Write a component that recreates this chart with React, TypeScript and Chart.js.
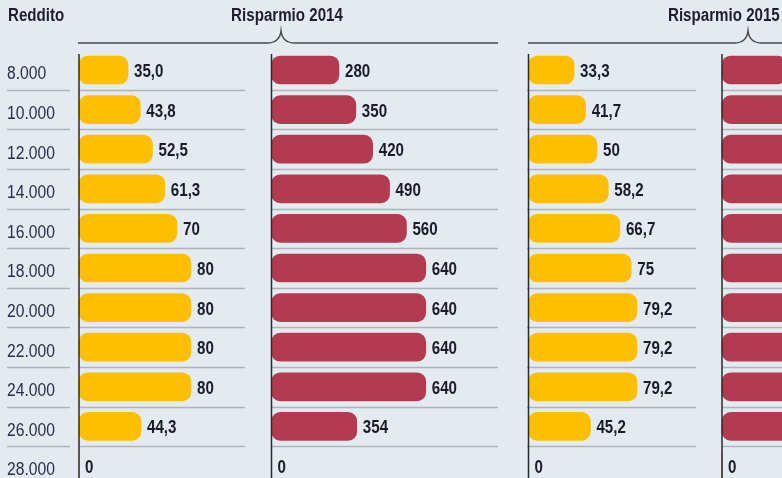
import React, { useEffect, useRef } from "react";
import { Chart, registerables } from "chart.js";

Chart.register(...registerables);

// ---- data ----
const incomes = ["8.000", "10.000", "12.000", "14.000", "16.000", "18.000", "20.000", "22.000", "24.000", "26.000", "28.000"];

const monthly2014 = [35.0, 43.8, 52.5, 61.3, 70, 80, 80, 80, 80, 44.3, 0];
const monthly2014Text = ["35,0", "43,8", "52,5", "61,3", "70", "80", "80", "80", "80", "44,3", "0"];

const yearly2014 = [280, 350, 420, 490, 560, 640, 640, 640, 640, 354, 0];
const yearly2014Text = ["280", "350", "420", "490", "560", "640", "640", "640", "640", "354", "0"];

const monthly2015 = [33.3, 41.7, 50, 58.2, 66.7, 75, 79.2, 79.2, 79.2, 45.2, 0];
const monthly2015Text = ["33,3", "41,7", "50", "58,2", "66,7", "75", "79,2", "79,2", "79,2", "45,2", "0"];

const yearly2015 = [266, 333, 400, 466, 533, 600, 633, 633, 633, 362, 0];
const yearly2015Text = ["266", "333", "400", "466", "533", "600", "633", "633", "633", "362", "0"];

const incomeTitle = "Reddito";
const groupTitles = ["Risparmio 2014", "Risparmio 2015"];

// ---- layout / style ----
const W = 782;
const H = 487;
const BG = "#e3ebf1";
const YELLOW = "#fdbf00";
const RED = "#b43a52";
const SANS = '"Liberation Sans", Arial, sans-serif';

// column: zero pixel, pixels per unit
const columns = [
  { id: "x1", zero: 79, ppu: 1.4 },
  { id: "x2", zero: 271.5, ppu: 0.241 },
  { id: "x3", zero: 528.5, ppu: 1.37 },
  { id: "x4", zero: 722, ppu: 0.241 },
];
const sepSegments = [
  [7, 70],
  [79, 245],
  [271, 498],
  [527, 696],
  [722, 782],
];
const braces = [
  { x0: 78, x1: 498, tip: 281 },
  { x0: 528, x1: 782, tip: 748 },
];

function axisRange(zero: number, ppu: number) {
  const min = -zero / ppu;
  return { min, max: min + W / ppu };
}

function narrowText(
  ctx: CanvasRenderingContext2D,
  text: string,
  x: number,
  y: number,
  sx: number,
  align: CanvasTextAlign = "left"
) {
  ctx.save();
  ctx.translate(x, y);
  ctx.scale(sx, 1);
  ctx.textAlign = align;
  ctx.fillText(text, 0, 0);
  ctx.restore();
}

const overlayPlugin = {
  id: "overlay",
  beforeDatasetsDraw(chart: any) {
    const ctx = chart.ctx as CanvasRenderingContext2D;
    const ys = chart.scales.y;
    ctx.save();
    // separators
    ctx.strokeStyle = "#b0b4b8";
    ctx.lineWidth = 1.6;
    for (let i = 0; i < incomes.length - 1; i++) {
      const y = Math.round((ys.getPixelForValue(i) + ys.getPixelForValue(i + 1)) / 2) + 0.5;
      for (const [a, b] of sepSegments) {
        ctx.beginPath();
        ctx.moveTo(a, y);
        ctx.lineTo(b, y);
        ctx.stroke();
      }
    }
    // headers
    ctx.fillStyle = "#1f1d2e";
    ctx.font = `bold 18px ${SANS}`;
    ctx.textBaseline = "alphabetic";
    narrowText(ctx, incomeTitle, 8, 21, 0.84, "left");
    narrowText(ctx, groupTitles[0], 287, 21, 0.84, "center");
    narrowText(ctx, groupTitles[1], 668, 21, 0.84, "left");
    // braces
    ctx.strokeStyle = "#4a4a4a";
    ctx.lineWidth = 1.5;
    const by = 43;
    for (const b of braces) {
      ctx.beginPath();
      ctx.moveTo(b.x0, by);
      ctx.lineTo(b.tip - 14, by);
      ctx.bezierCurveTo(b.tip - 6, by, b.tip - 1, by - 4, b.tip, by - 12);
      ctx.bezierCurveTo(b.tip + 1, by - 4, b.tip + 6, by, b.tip + 14, by);
      ctx.lineTo(b.x1, by);
      ctx.stroke();
    }
    ctx.restore();
  },
  afterDatasetsDraw(chart: any) {
    const ctx = chart.ctx as CanvasRenderingContext2D;
    const ys = chart.scales.y;
    ctx.save();
    // vertical axis lines
    ctx.strokeStyle = "#2a2a2a";
    ctx.lineWidth = 1.5;
    for (const c of columns) {
      const x = chart.scales[c.id].getPixelForValue(0);
      ctx.beginPath();
      ctx.moveTo(x, 54);
      ctx.lineTo(x, H);
      ctx.stroke();
    }
    // row labels
    ctx.fillStyle = "#2e2a4c";
    ctx.font = `18px ${SANS}`;
    ctx.textBaseline = "middle";
    incomes.forEach((lab, i) => {
      narrowText(ctx, lab, 7, ys.getPixelForValue(i) + 4.5, 0.87, "left");
    });
    // value labels
    const texts = [monthly2014Text, yearly2014Text, monthly2015Text, yearly2015Text];
    ctx.font = `bold 18px ${SANS}`;
    ctx.fillStyle = "#1c1b29";
    chart.data.datasets.forEach((_ds: any, di: number) => {
      const meta = chart.getDatasetMeta(di);
      meta.data.forEach((el: any, i: number) => {
        narrowText(ctx, texts[di][i], el.x + 6, el.y + 2, 0.84, "left");
      });
    });
    ctx.restore();
  },
};

export default function App() {
  const ref = useRef<HTMLCanvasElement | null>(null);
  useEffect(() => {
    if (!ref.current) return;
    const series = [monthly2014, yearly2014, monthly2015, yearly2015];
    const colors = [YELLOW, RED, YELLOW, RED];
    const scales: any = {
      y: { type: "category", labels: incomes, display: false, offset: true },
    };
    columns.forEach((c) => {
      const r = axisRange(c.zero, c.ppu);
      scales[c.id] = { type: "linear", display: false, min: r.min, max: r.max, position: "bottom" };
    });
    const chart = new Chart(ref.current, {
      type: "bar",
      data: {
        labels: incomes,
        datasets: series.map((d, i) => ({
          data: d,
          xAxisID: columns[i].id,
          yAxisID: "y",
          backgroundColor: colors[i],
          borderWidth: 0,
          borderRadius: 9,
          borderSkipped: false,
          barThickness: 28,
          grouped: false,
        })),
      },
      options: {
        indexAxis: "y",
        responsive: false,
        animation: false,
        devicePixelRatio: 1,
        layout: { padding: { top: 50.2, bottom: 1.2, left: 0, right: 0 } },
        scales,
        plugins: { legend: { display: false }, tooltip: { enabled: false } },
      } as any,
      plugins: [overlayPlugin],
    });
    return () => chart.destroy();
  }, []);

  return (
    <div
      style={{
        position: "fixed",
        left: 0,
        top: 0,
        width: W,
        height: 478,
        overflow: "hidden",
        background: BG,
      }}
    >
      <canvas ref={ref} width={W} height={H} style={{ display: "block" }} />
    </div>
  );
}
